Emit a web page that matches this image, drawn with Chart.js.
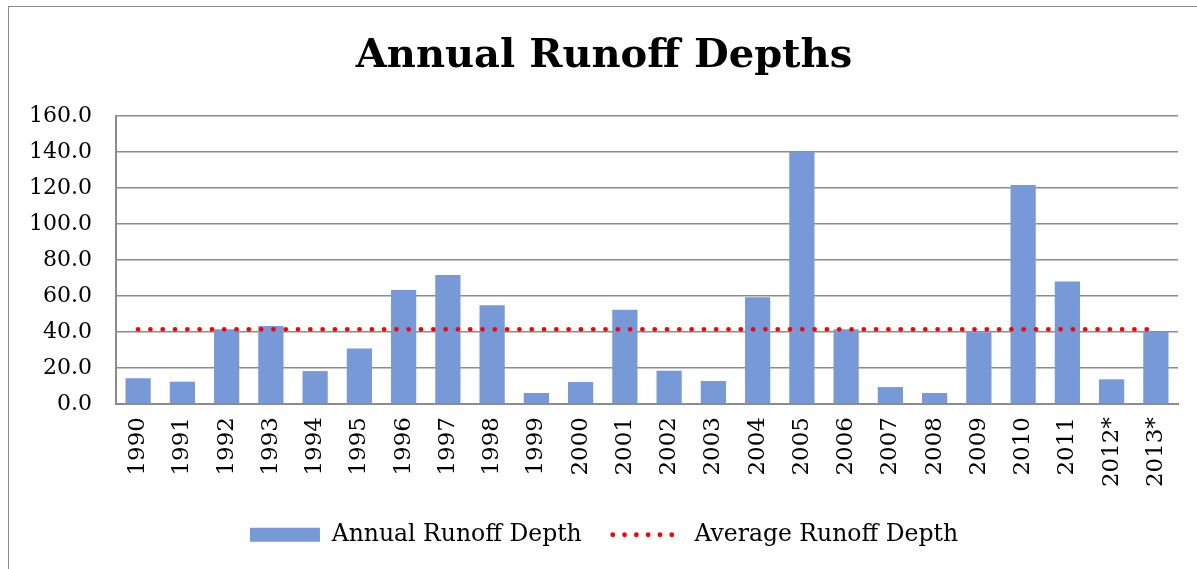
<!DOCTYPE html>
<html>
  <head>
    <meta charset="utf-8" />
    <title>Annual Runoff Depths</title>
    <style>
      html, body { margin: 0; padding: 0; background: #fff; overflow: hidden; }
      .frame {
        position: absolute; left: 8px; top: 6px; width: 1200px; height: 580px;
        border: 1px solid #8a8a8a;
      }
      .wrap { position: absolute; left: 0; top: 0; width: 1197px; height: 569px; }
    </style>
  </head>
  <body>
    <div class="frame"></div>
    <div class="wrap"><canvas id="runoffChart"></canvas></div>

    <script src="https://cdn.jsdelivr.net/npm/chart.js@4/dist/chart.umd.min.js"></script>
    <script>
      // years on the x axis
      const years = [
        "1990", "1991", "1992", "1993", "1994", "1995", "1996", "1997",
        "1998", "1999", "2000", "2001", "2002", "2003", "2004", "2005",
        "2006", "2007", "2008", "2009", "2010", "2011", "2012*", "2013*",
      ];
      // annual runoff depth
      const annualDepth = [
        14.3, 12.4, 41.5, 43.3, 18.3, 30.9, 63.3, 71.7, 54.8, 6.1, 12.2, 52.4,
        18.5, 12.8, 59.3, 140.2, 41.5, 9.4, 6.1, 39.8, 121.7, 68.1, 13.7, 40.2,
      ];
      // average runoff depth (flat dotted line)
      const averageDepth = [
        41.5, 41.5, 41.5, 41.5, 41.5, 41.5, 41.5, 41.5, 41.5, 41.5, 41.5, 41.5,
        41.5, 41.5, 41.5, 41.5, 41.5, 41.5, 41.5, 41.5, 41.5, 41.5, 41.5, 41.5,
      ];
      const yTicks = [0, 20, 40, 60, 80, 100, 120, 140, 160];

      const barColor = "#7799d8";
      const avgColor = "#ff0000";
      const gridColor = "#8c8c8c";
      const fontFamily = "'DejaVu Serif', serif";

      const ctx = document.getElementById("runoffChart").getContext("2d");
      const runoffChart = new Chart(ctx, {
        data: {
          labels: years,
          datasets: [
            {
              type: "bar",
              label: "Annual Runoff Depth",
              data: annualDepth,
              backgroundColor: barColor,
              barPercentage: 1,
              categoryPercentage: 0.57,
              order: 1,
            },
            {
              type: "line",
              label: "Average Runoff Depth",
              data: averageDepth,
              borderColor: avgColor,
              borderWidth: 4.8,
              borderDash: [0, 12.3],
              borderCapStyle: "round",
              pointRadius: 0,
              fill: false,
              order: 0,
            },
          ],
        },
        options: {
          responsive: true,
          maintainAspectRatio: false,
          animation: false,
          layout: { padding: { left: 30, right: 19, top: 0, bottom: 12.5 } },
          plugins: {
            tooltip: { enabled: false },
            title: {
              display: true,
              text: "Annual Runoff Depths",
              color: "#000",
              font: { family: fontFamily, size: 40, weight: "bold" },
              padding: { top: 33, bottom: 35 },
            },
            legend: {
              position: "bottom",
              labels: {
                color: "#000",
                font: { family: fontFamily, size: 23.5 },
                usePointStyle: true,
                pointStyleWidth: 70,
                boxHeight: 14,
                padding: 31,
                generateLabels: function (chart) {
                  return [
                    {
                      text: "Annual Runoff Depth",
                      fillStyle: barColor,
                      strokeStyle: barColor,
                      lineWidth: 0,
                      pointStyle: "rect",
                      datasetIndex: 0,
                    },
                    {
                      text: "Average Runoff Depth",
                      fillStyle: avgColor,
                      strokeStyle: avgColor,
                      lineWidth: 4.8,
                      lineDash: [0, 11.8],
                      lineCap: "round",
                      pointStyle: "line",
                      datasetIndex: 1,
                    },
                  ];
                },
              },
            },
          },
          scales: {
            x: {
              grid: { display: false },
              border: { display: true, color: gridColor, width: 2 },
              ticks: {
                color: "#000",
                font: { family: fontFamily, size: 23 },
                minRotation: 90,
                maxRotation: 90,
                padding: 5,
                autoSkip: false,
              },
              afterFit: function (scale) {
                scale.height = 88;
              },
            },
            y: {
              min: 0,
              max: 160,
              afterBuildTicks: function (scale) {
                scale.ticks = yTicks.map((v) => ({ value: v }));
              },
              grid: { color: gridColor, lineWidth: 1.5, drawTicks: false },
              border: { display: true, color: gridColor, width: 2 },
              ticks: {
                color: "#000",
                font: { family: fontFamily, size: 22 },
                padding: 24,
                callback: (v) => v.toFixed(1),
              },
              afterFit: function (scale) {
                scale.width = 86;
              },
            },
          },
        },
      });
    </script>
  </body>
</html>
